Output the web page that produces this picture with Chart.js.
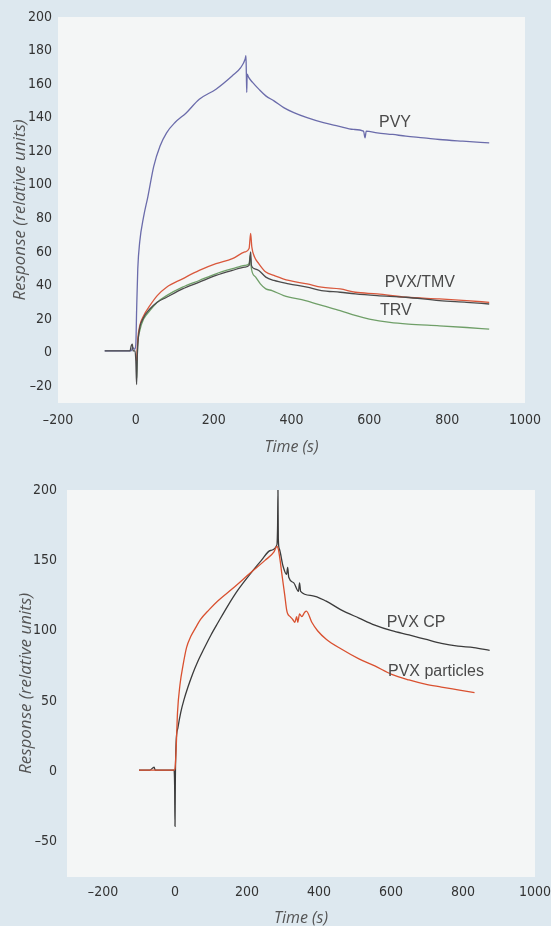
<!DOCTYPE html>
<html>
<head>
<meta charset="utf-8">
<script src="https://cdn.jsdelivr.net/npm/chart.js@4.4.1/dist/chart.umd.min.js"></script>
<style>
  html, body { margin: 0; padding: 0; background: #dde8ef; }
  .caja { position: relative; width: 551px; }
  #arriba { height: 460px; }
  #abajo { height: 466px; }
</style>
</head>
<body>
<div class="caja" id="arriba"><canvas id="grafico1"></canvas></div>
<div class="caja" id="abajo"><canvas id="grafico2"></canvas></div>
<script>
// --- panel superior: tiempo (s) y respuesta ---
const tPVY = [-80, -40, -12, -8, -3, 0, 2, 5, 10, 20, 31, 46, 62, 79, 100, 130, 163, 206, 248, 270, 281, 283, 284, 285, 286, 290, 300, 316, 334, 355, 380, 406, 440, 482, 520, 559, 585, 589, 592, 620, 660, 694, 740, 780, 840, 908];
const vPVY = [1, 1, 1, 3, 2, 5, 25, 50, 66, 81, 93, 111, 123, 131, 137, 143, 151, 157, 165, 170, 175, 177, 166, 155, 166, 164, 161, 157, 153, 150, 146, 143, 140, 137, 135, 133, 132, 128, 132, 131, 130, 129, 128, 127, 126, 125];

const tTMV = [-80, -40, -15, -12, -9, -7, -2, 0, 2, 4, 8, 18, 36, 55, 79, 120, 163, 206, 248, 280, 291, 295, 297, 305, 316, 334, 355, 393, 440, 477, 525, 564, 620, 694, 780, 850, 908];
const vTMV = [1, 1, 1, 4, 5, 1, 1, -5, -19, 0, 12, 20, 26, 30, 33, 38, 42, 46, 49, 51, 52, 60, 52, 50, 49, 45, 43, 41, 39, 37, 36, 35, 34, 33, 31, 30, 29];

const tPVX = [2, 5, 10, 20, 36, 55, 79, 120, 163, 206, 248, 280, 291, 295, 298, 305, 316, 334, 355, 393, 440, 477, 525, 564, 620, 694, 780, 850, 908];
const vPVX = [-5, 8, 16, 22, 28, 34, 39, 44, 49, 53, 56, 60, 62, 71, 63, 57, 53, 48, 46, 43, 41, 39, 38, 36, 35, 33, 32, 31, 30];

const tTRV = [2, 5, 10, 20, 36, 55, 79, 120, 163, 206, 248, 280, 291, 294, 297, 308, 320, 334, 350, 380, 436, 480, 525, 566, 600, 653, 700, 780, 850, 908];
const vTRV = [-15, 5, 13, 20, 25, 30, 34, 39, 43, 47, 50, 52, 53, 58, 50, 45, 41, 38, 37, 34, 31, 28, 25, 22, 20, 18, 17, 16, 15, 14];

const xTicks1 = [-200, 0, 200, 400, 600, 800, 1000];
const yTicks1 = [-20, 0, 20, 40, 60, 80, 100, 120, 140, 160, 180, 200];
const etiquetas1 = ["PVY", "PVX/TMV", "TRV"];
const etiquetasX1 = [666, 730, 668];
const etiquetasY1 = [137, 42, 25];

// --- panel inferior ---
const tCP = [-100, -70, -58, -55, -20, -3, -1, 0, 1, 3, 8, 16, 25, 36, 50, 63, 80, 100, 120, 145, 175, 214, 240, 265, 283, 285, 286, 287, 290, 300, 310, 313, 316, 330, 343, 346, 349, 380, 420, 460, 511, 555, 602, 650, 695, 740, 786, 830, 874];
const vCP = [1, 1, 3, 1, 1, 1, -10, -39, -5, 20, 31, 42, 51, 60, 70, 78, 87, 97, 106, 117, 129, 142, 150, 157, 161, 175, 200, 165, 158, 146, 140, 145, 138, 134, 128, 134, 128, 125, 121, 115, 109, 104, 100, 97, 94, 91, 89, 88, 86];

const tPart = [-100, -3, 0, 3, 7, 14, 22, 32, 44, 57, 71, 95, 118, 160, 209, 250, 275, 283, 287, 292, 297, 305, 310, 313, 320, 327, 333, 338, 341, 346, 352, 360, 365, 380, 396, 420, 462, 511, 555, 602, 650, 695, 740, 786, 832];
const vPart = [1, 1, 2, 15, 42, 62, 75, 88, 96, 102, 108, 115, 121, 130, 141, 150, 156, 160, 158, 150, 140, 125, 115, 112, 110, 108, 106, 110, 106, 112, 110, 113, 114, 106, 100, 94, 87, 80, 75, 69, 65, 62, 60, 58, 56];

const xTicks2 = [-200, 0, 200, 400, 600, 800, 1000];
const yTicks2 = [-50, 0, 50, 100, 150, 200];
const etiquetas2 = ["PVX CP", "PVX particles"];
const etiquetasX2 = [670, 725];
const etiquetasY2 = [106, 71];

const fuenteTicks = "'DejaVu Sans Condensed', 'DejaVu Sans', sans-serif";
const fuenteTitulo = "'Open Sans', 'Liberation Sans', sans-serif";

function puntos(ts, vs) {
    return ts.map((t, i) => ({ x: t, y: vs[i] }));
}

function textoTick(v) {
    return v < 0 ? "\u2013" + Math.abs(v) : String(v);
}

const fondoArea = {
    id: 'fondoArea',
    beforeDraw(chart) {
        const a = chart.chartArea;
        const ctx = chart.ctx;
        ctx.save();
        ctx.fillStyle = '#f4f6f6';
        ctx.fillRect(a.left, a.top, a.right - a.left, a.bottom - a.top);
        ctx.restore();
    }
};

function rotulos(textos, xs, ys) {
    return {
        id: 'rotulos',
        afterDatasetsDraw(chart) {
            const ctx = chart.ctx;
            ctx.save();
            ctx.font = "16px 'Liberation Sans', Arial, sans-serif";
            ctx.fillStyle = '#4a4a4a';
            ctx.textAlign = 'center';
            ctx.textBaseline = 'middle';
            textos.forEach((txt, i) => {
                ctx.fillText(txt, chart.scales.x.getPixelForValue(xs[i]), chart.scales.y.getPixelForValue(ys[i]));
            });
            ctx.restore();
        }
    };
}

function serie(ts, vs, color) {
    return {
        data: puntos(ts, vs),
        borderColor: color,
        borderWidth: 1.3,
        pointRadius: 0,
        cubicInterpolationMode: 'monotone',
        fill: false
    };
}

function opciones(cfg) {
    return {
        responsive: true,
        maintainAspectRatio: false,
        animation: false,
        layout: { padding: cfg.padding },
        plugins: { legend: { display: false }, tooltip: { enabled: false } },
        scales: {
            x: {
                type: 'linear',
                min: cfg.xMin, max: cfg.xMax,
                border: { display: false },
                grid: { display: false, drawTicks: false },
                afterBuildTicks: s => { s.ticks = cfg.xTicks.map(v => ({ value: v })); },
                afterFit: s => {
                    s.height = cfg.altoX;
                    s.paddingLeft = 0;
                    s.paddingRight = 0;
                },
                ticks: {
                    autoSkip: false, maxRotation: 0, padding: cfg.padX,
                    color: '#333',
                    font: { family: fuenteTicks, size: 14 },
                    callback: textoTick
                },
                title: {
                    display: true, text: 'Time (s)', color: '#555',
                    font: { family: fuenteTitulo, size: 16, style: 'italic', lineHeight: cfg.lhX },
                    padding: { top: 0, bottom: cfg.padTitX }
                }
            },
            y: {
                type: 'linear',
                min: cfg.yMin, max: cfg.yMax,
                border: { display: false },
                grid: { display: false, drawTicks: false },
                afterBuildTicks: s => { s.ticks = cfg.yTicks.map(v => ({ value: v })); },
                afterFit: s => { s.width = cfg.anchoY; },
                ticks: {
                    padding: cfg.padY,
                    color: '#333',
                    font: { family: fuenteTicks, size: 14 },
                    callback: textoTick
                },
                title: {
                    display: true, text: 'Response (relative units)', color: '#555',
                    font: { family: fuenteTitulo, size: 17, style: 'italic', lineHeight: 1.2 },
                    padding: { top: cfg.padTitY, bottom: 0 }
                }
            }
        }
    };
}

new Chart(document.getElementById('grafico1'), {
    type: 'line',
    data: {
        datasets: [
            serie(tTMV, vTMV, '#4b4b4b'),
            serie(tPVX, vPVX, '#d9583c'),
            serie(tTRV, vTRV, '#6f9f68'),
            serie(tPVY, vPVY, '#6b6cab')
        ]
    },
    options: opciones({
        padding: { left: 0, right: 26, top: 17, bottom: 0 },
        xMin: -200, xMax: 1000, yMin: -30, yMax: 200,
        xTicks: xTicks1, yTicks: yTicks1,
        altoX: 57, anchoY: 58, padX: 9, padY: 6,
        lhX: 1.2, padTitX: 3, padTitY: 10
    }),
    plugins: [fondoArea, rotulos(etiquetas1, etiquetasX1, etiquetasY1)]
});

new Chart(document.getElementById('grafico2'), {
    type: 'line',
    data: {
        datasets: [
            serie(tPart, vPart, '#d9502f'),
            serie(tCP, vCP, '#3b3b3b')
        ]
    },
    options: opciones({
        padding: { left: 0, right: 16, top: 30, bottom: 0 },
        xMin: -300, xMax: 1000, yMin: -75, yMax: 200,
        xTicks: xTicks2, yTicks: yTicks2,
        altoX: 49, anchoY: 67, padX: 7, padY: 10,
        lhX: 1, padTitX: 0, padTitY: 16
    }),
    plugins: [fondoArea, rotulos(etiquetas2, etiquetasX2, etiquetasY2)]
});
</script>
</body>
</html>
